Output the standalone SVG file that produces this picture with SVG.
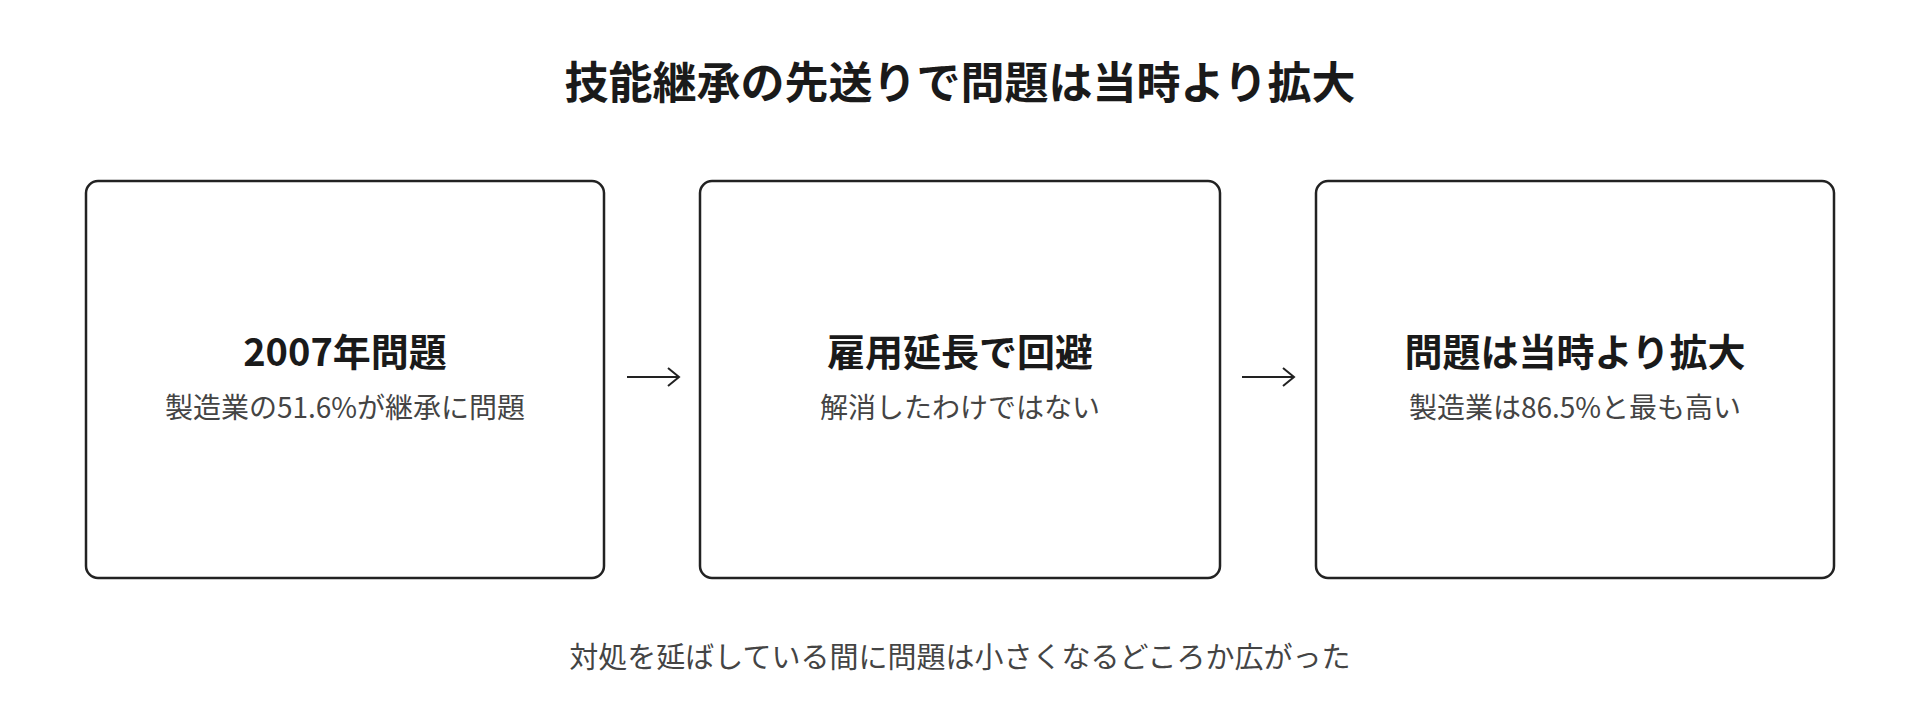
<svg xmlns="http://www.w3.org/2000/svg" width="1920" height="715" viewBox="0 0 1920 715">
<style>
text{font-family:"Noto Sans CJK JP","Noto Sans",sans-serif;text-anchor:middle}
.t{font-size:44px;font-weight:700;fill:#1a1a1a}
.h{font-size:38px;font-weight:700;fill:#1a1a1a}
.s{font-size:28px;fill:#444}
.f{font-size:29px;fill:#444}
.box{fill:#fff;stroke:#222;stroke-width:2.5}
.c{stroke:#222;stroke-width:2;fill:none}
</style>
<rect width="1920" height="715" fill="#fff"/>
<text class="t" x="960" y="99">技能継承の先送りで問題は当時より拡大</text>
<g id="n1"><rect class="box" x="86" y="181" width="518" height="397" rx="12"/>
<text class="h" x="345" y="366">2007年問題</text><text class="s" x="345" y="418">製造業の51.6%が継承に問題</text></g>
<g id="n2"><rect class="box" x="700" y="181" width="520" height="397" rx="12"/>
<text class="h" x="960" y="366">雇用延長で回避</text><text class="s" x="960" y="418">解消したわけではない</text></g>
<g id="n3"><rect class="box" x="1316" y="181" width="518" height="397" rx="12"/>
<text class="h" x="1575" y="366">問題は当時より拡大</text><text class="s" x="1575" y="418">製造業は86.5%と最も高い</text></g>
<g id="connectors">
<path class="c" d="M627 377H679M668 368L679 377L668 386"/>
<path class="c" d="M1242 377H1294M1283 368L1294 377L1283 386"/>
</g>
<text class="f" x="960" y="668">対処を延ばしている間に問題は小さくなるどころか広がった</text>
</svg>
